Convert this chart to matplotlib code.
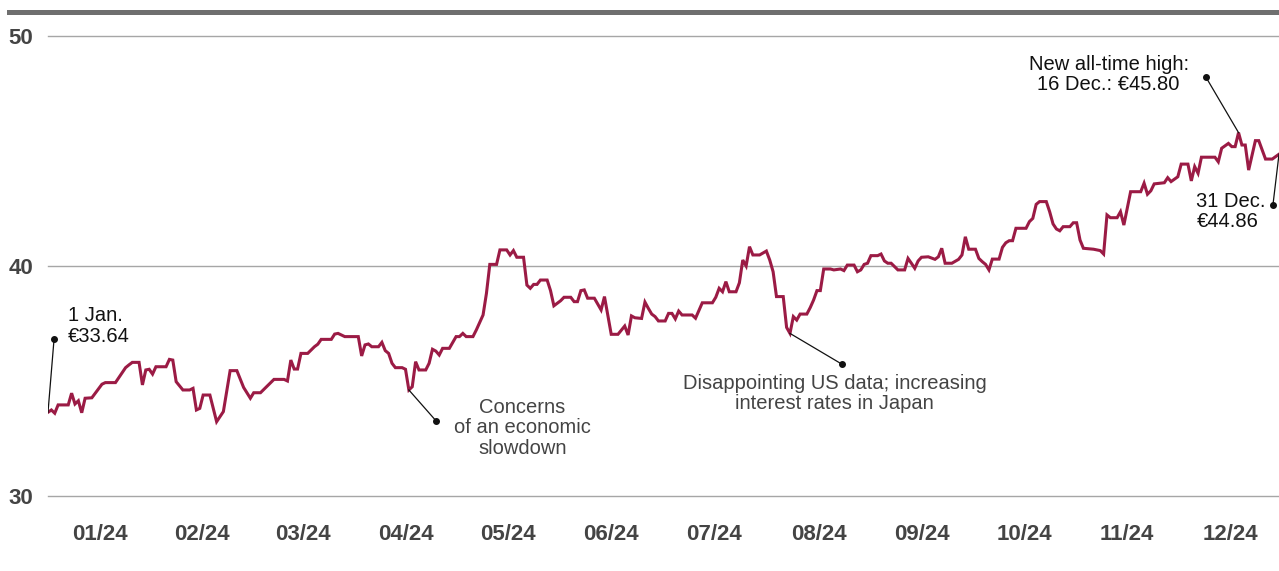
import matplotlib
matplotlib.use("Agg")
import matplotlib.pyplot as plt
from matplotlib.lines import Line2D

plt.rcParams['font.family'] = ['Liberation Sans', 'DejaVu Sans']

# closing price per calendar day of 2024 (day 0 = 1 Jan)
days = [0, 1, 2, 3, 6, 7, 8, 9, 10, 11, 13, 16, 17, 20, 23, 24, 25, 27, 28, 29,
        30, 31, 32, 35, 36, 37, 38, 40, 42, 43, 44, 45, 46, 48, 50, 52, 54, 56, 58, 60,
        61, 63, 65, 67, 70, 71, 72, 73, 74, 75, 77, 79, 80, 81, 84, 85, 86, 88, 92, 93,
        94, 95, 96, 98, 99, 100, 101, 102, 103, 105, 106, 107, 108, 109, 110, 112, 113, 114, 115, 116,
        117, 119, 121, 122, 123, 124, 126, 127, 129, 130, 131, 133, 134, 136, 137, 138, 139, 141, 142, 143,
        144, 145, 146, 148, 149, 150, 152, 153, 155, 156, 157, 158, 159, 160, 162, 164, 165, 167, 169, 171,
        172, 173, 174, 176, 177, 178, 179, 180, 181, 183, 184, 185, 186, 187, 188, 191, 192, 194, 197, 198,
        199, 200, 201, 202, 204, 205, 206, 207, 208, 209, 211, 213, 214, 215, 216, 218, 219, 220, 221, 222,
        223, 225, 226, 227, 228, 229, 230, 232, 233, 235, 236, 237, 239, 240, 241, 242, 243, 244, 246, 247,
        248, 249, 250, 252, 254, 255, 256, 257, 258, 259, 261, 263, 264, 265, 266, 268, 270, 271, 272, 273,
        275, 276, 277, 278, 279, 280, 282, 283, 284, 285, 286, 287, 290, 291, 292, 293, 294, 296, 297, 298,
        299, 300, 301, 303, 304, 305, 306, 307, 310, 312, 313, 314, 315, 317, 318, 319, 321, 324, 325, 326,
        327, 328, 331, 332, 333, 335, 336, 338, 339, 340, 341, 342, 346, 347, 348, 350, 351, 352, 353, 354,
        355, 356, 358, 359, 361, 363, 365]
prices = [33.64, 33.74, 33.60, 33.96, 33.96, 34.47, 34.00, 34.14, 33.62, 34.25, 34.27, 34.86, 34.93, 34.93, 35.58, 35.70, 35.81, 35.81, 34.83, 35.48,
          35.51, 35.30, 35.62, 35.62, 35.94, 35.91, 34.97, 34.61, 34.61, 34.68, 33.74, 33.81, 34.39, 34.39, 33.23, 33.67, 35.45, 35.45, 34.72, 34.25,
          34.49, 34.49, 34.78, 35.07, 35.07, 35.00, 35.91, 35.52, 35.52, 36.20, 36.20, 36.49, 36.60, 36.81, 36.81, 37.04, 37.07, 36.93, 36.93, 36.09,
          36.57, 36.61, 36.49, 36.49, 36.68, 36.32, 36.20, 35.77, 35.58, 35.58, 35.51, 34.61, 34.75, 35.84, 35.48, 35.48, 35.77, 36.38, 36.30, 36.13,
          36.42, 36.42, 36.93, 36.93, 37.07, 36.93, 36.93, 37.22, 37.87, 38.81, 40.07, 40.07, 40.70, 40.70, 40.48, 40.67, 40.38, 40.38, 39.17, 39.03,
          39.20, 39.20, 39.39, 39.39, 38.93, 38.27, 38.49, 38.64, 38.64, 38.45, 38.45, 38.93, 38.96, 38.60, 38.60, 38.09, 38.67, 37.03, 37.03, 37.39,
          37.00, 37.83, 37.75, 37.72, 38.43, 38.16, 37.91, 37.80, 37.61, 37.61, 37.94, 37.94, 37.70, 38.04, 37.87, 37.87, 37.73, 38.40, 38.40, 38.64,
          39.03, 38.88, 39.32, 38.88, 38.88, 39.27, 40.26, 40.00, 40.84, 40.48, 40.48, 40.65, 40.26, 39.75, 38.67, 38.67, 37.33, 37.07, 37.80, 37.65,
          37.91, 37.91, 38.19, 38.52, 38.93, 38.93, 39.87, 39.87, 39.83, 39.87, 39.80, 40.04, 40.04, 39.75, 39.83, 40.07, 40.12, 40.45, 40.45, 40.52,
          40.22, 40.12, 40.12, 39.83, 39.83, 40.33, 40.12, 39.90, 40.22, 40.38, 40.40, 40.29, 40.40, 40.77, 40.12, 40.12, 40.29, 40.48, 41.27, 40.73,
          40.73, 40.33, 40.19, 40.07, 39.83, 40.30, 40.30, 40.81, 41.01, 41.10, 41.10, 41.64, 41.64, 41.93, 42.07, 42.68, 42.80, 42.80, 42.36, 41.83,
          41.61, 41.53, 41.71, 41.71, 41.88, 41.88, 41.13, 40.77, 40.73, 40.67, 40.52, 42.22, 42.10, 42.10, 42.36, 41.78, 43.23, 43.23, 43.60, 43.12,
          43.27, 43.57, 43.62, 43.84, 43.67, 43.88, 44.43, 44.43, 43.70, 44.32, 44.03, 44.73, 44.73, 44.53, 45.12, 45.33, 45.19, 45.19, 45.80, 45.26,
          45.26, 44.17, 45.45, 45.45, 44.65, 44.65, 44.86]

month_labels = ['01/24', '02/24', '03/24', '04/24', '05/24', '06/24',
                '07/24', '08/24', '09/24', '10/24', '11/24', '12/24']
month_starts = [0, 31, 60, 91, 121, 152, 182, 213, 244, 274, 305, 335, 366]
y_ticks = [30, 40, 50]

LINE_COLOR = '#9b1b45'
GRID_COLOR = '#a6a6a6'
LABEL_COLOR = '#444444'

fig = plt.figure(figsize=(12.79, 5.71), dpi=100)
ax = fig.add_axes([48 / 1279, 75 / 571, 1231 / 1279, 460 / 571])

for y in y_ticks:
    ax.axhline(y, color=GRID_COLOR, lw=1.0, zorder=1, clip_on=False)

ax.plot(days, prices, color=LINE_COLOR, lw=2.2, solid_joinstyle='miter', zorder=3)

ax.set_xlim(0, 365)
ax.set_ylim(30, 50)
for s in ax.spines.values():
    s.set_visible(False)

ax.set_yticks(y_ticks)
ax.set_yticklabels([str(y) for y in y_ticks], fontsize=16, fontweight='bold', color=LABEL_COLOR)
mids = [(month_starts[i] + month_starts[i + 1]) / 2 for i in range(12)]
ax.set_xticks(mids)
ax.set_xticklabels(month_labels, fontsize=16, fontweight='bold', color=LABEL_COLOR)
ax.tick_params(axis='y', length=0, pad=12)
ax.tick_params(axis='x', length=0, pad=20)
for lab in ax.get_yticklabels():
    lab.set_horizontalalignment('left')
    lab.set_x(-23 / 1231)

# thick rule at the top
fig.add_artist(Line2D([9 / 1279, 1.0], [1 - 12 / 571] * 2, color='#6f6f6f', lw=3.6,
                      transform=fig.transFigure))


def callout(point_x, point_y, dot_x, dot_y, text, tx, ty, ha, color):
    ax.plot([point_x, dot_x], [point_y, dot_y], color='#111111', lw=0.9, zorder=4)
    ax.plot(dot_x, dot_y, 'o', color='#111111', ms=4, zorder=5)
    ax.text(tx, ty, text, ha=ha, va='center', fontsize=14.5, color=color,
            linespacing=1.12, zorder=5)


i_peak = prices.index(max(prices))
callout(days[0], prices[0], 1.8, 36.83, '1 Jan.\n€33.64', 5.9, 37.39, 'left', '#111111')
callout(107, prices[days.index(107)], 115.1, 33.26,
        'Concerns\nof an economic\nslowdown', 140.7, 32.96, 'center', LABEL_COLOR)
callout(220, prices[days.index(220)], 235.3, 35.74,
        'Disappointing US data; increasing\ninterest rates in Japan', 233.2, 34.46, 'center', LABEL_COLOR)
callout(days[i_peak], prices[i_peak], 343.3, 48.22,
        'New all-time high:\n16 Dec.: €45.80', 314.5, 48.33, 'center', '#111111')
callout(days[-1], prices[-1], 363.2, 42.65, '31 Dec.\n€44.86', 340.5, 42.37, 'left', '#111111')

fig.savefig('out.png', dpi=100)
